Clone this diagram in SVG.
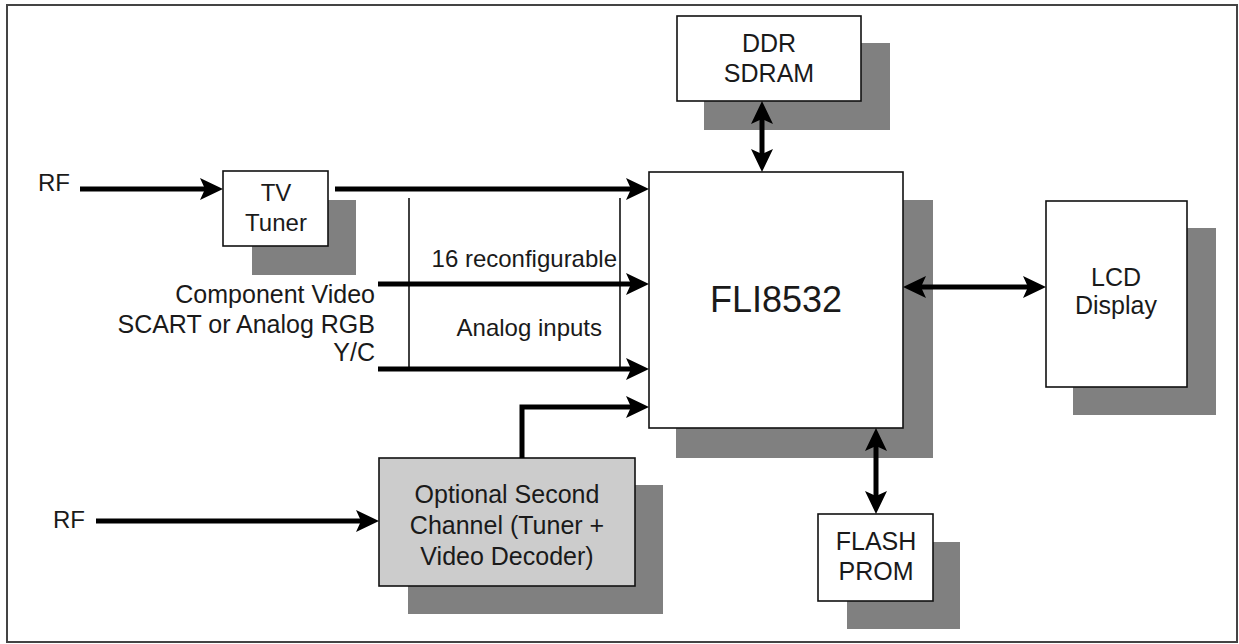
<svg xmlns="http://www.w3.org/2000/svg" width="1239" height="644" viewBox="0 0 1239 644">
<style>
.box{fill:#ffffff;stroke:#111;stroke-width:1.6}
.gray{fill:#cccccc;stroke:#111;stroke-width:1.6}
.sh{fill:#808080}
.t{font-family:"Liberation Sans",Arial,Helvetica,sans-serif;font-size:25px;fill:#1a1a1a}
.s{font-size:24px}
.m{text-anchor:middle}
.e{text-anchor:end}
.w{fill:none;stroke:#000;stroke-width:5}
.thin{fill:none;stroke:#111;stroke-width:1.6}
</style>
<defs>
<marker id="ah" viewBox="-12 -13 28 26" refX="0" refY="0" markerWidth="28" markerHeight="26" markerUnits="userSpaceOnUse" orient="auto-start-reverse">
<path d="M-9,-11 L14,0 L-9,11 L-4,0 Z" fill="#000"/>
</marker>
</defs>
<rect x="0" y="0" width="1239" height="644" fill="#fff"/>
<rect x="7" y="5" width="1230" height="637" fill="none" stroke="#444" stroke-width="2"/>

<g id="tv-tuner">
<rect class="sh" x="252" y="200" width="104" height="75"/>
<rect class="box" x="223" y="171" width="105" height="75"/>
<text class="t m s" x="276" y="201">TV</text>
<text class="t m s" x="276" y="231">Tuner</text>
</g>

<g id="ddr-sdram">
<rect class="sh" x="704" y="43" width="186" height="87"/>
<rect class="box" x="677" y="16" width="184" height="85"/>
<text class="t m" x="769" y="52">DDR</text>
<text class="t m" x="769" y="82">SDRAM</text>
</g>

<g id="fli8532">
<rect class="sh" x="676" y="200" width="257" height="258"/>
<rect class="box" x="649" y="172" width="254" height="256"/>
<text class="t m" x="776" y="312" style="font-size:36px">FLI8532</text>
</g>

<g id="lcd-display">
<rect class="sh" x="1073" y="228" width="143" height="187"/>
<rect class="box" x="1046" y="201" width="141" height="186"/>
<text class="t m" x="1116" y="286">LCD</text>
<text class="t m" x="1116" y="314">Display</text>
</g>

<g id="second-channel">
<rect class="sh" x="408" y="485" width="255" height="129"/>
<rect class="gray" x="379" y="458" width="256" height="128"/>
<text class="t m" x="507" y="503">Optional Second</text>
<text class="t m" x="507" y="534">Channel (Tuner +</text>
<text class="t m" x="507" y="565">Video Decoder)</text>
</g>

<g id="flash-prom">
<rect class="sh" x="847" y="542" width="113" height="87"/>
<rect class="box" x="818" y="514" width="115" height="87"/>
<text class="t m" x="876" y="550">FLASH</text>
<text class="t m" x="876" y="580">PROM</text>
</g>

<g id="labels">
<text class="t s" x="38" y="191">RF</text>
<text class="t s" x="53" y="528">RF</text>
<text class="t e" x="375" y="303">Component Video</text>
<text class="t e" x="375" y="333">SCART or Analog RGB</text>
<text class="t e" x="375" y="361">Y/C</text>
<text class="t e s" x="617" y="267">16 reconfigurable</text>
<text class="t e s" x="602" y="336">Analog inputs</text>
</g>

<g id="connectors">
<line class="thin" x1="409" y1="198" x2="409" y2="369"/>
<line class="thin" x1="620" y1="198" x2="620" y2="369"/>
<line class="w" x1="80" y1="189" x2="209" y2="189" marker-end="url(#ah)"/>
<line class="w" x1="335" y1="189" x2="635" y2="189" marker-end="url(#ah)"/>
<line class="w" x1="378" y1="284" x2="635" y2="284" marker-end="url(#ah)"/>
<line class="w" x1="378" y1="369" x2="635" y2="369" marker-end="url(#ah)"/>
<path class="w" d="M522,458 V407 H635" marker-end="url(#ah)"/>
<line class="w" x1="96" y1="521" x2="365" y2="521" marker-end="url(#ah)"/>
<line class="w" x1="762" y1="115" x2="762" y2="158" marker-start="url(#ah)" marker-end="url(#ah)"/>
<line class="w" x1="917" y1="287" x2="1032" y2="287" marker-start="url(#ah)" marker-end="url(#ah)"/>
<line class="w" x1="876" y1="442" x2="876" y2="500" marker-start="url(#ah)" marker-end="url(#ah)"/>
</g>
</svg>
